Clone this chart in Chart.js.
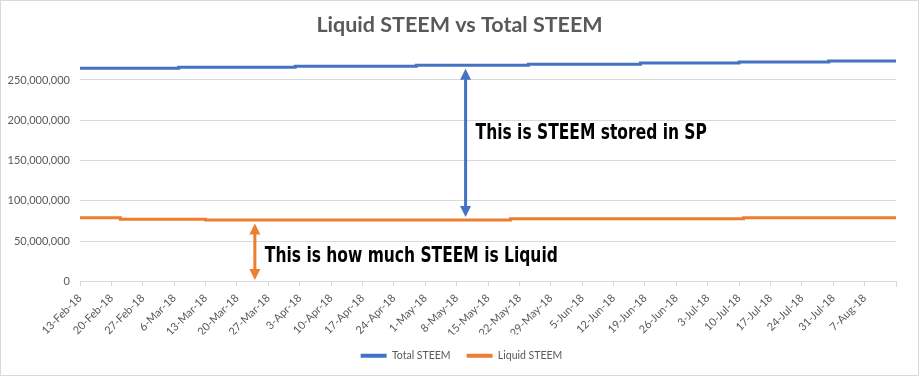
<!DOCTYPE html>
<html>
<head>
<meta charset="utf-8">
<script src="https://cdn.jsdelivr.net/npm/chart.js@4"></script>
<style>
  html, body { margin: 0; padding: 0; background: #fff; }
  #wrap { width: 919px; height: 376px; box-sizing: border-box; border: 1px solid #d9d9d9; }
  #wrap canvas { display: block; }
</style>
</head>
<body>
<div id="wrap"><canvas id="steem" width="917" height="374"></canvas></div>
<script>
// weekly tick labels (day 0 = 13-Feb-18)
const tickLabels = ['13-Feb-18', '20-Feb-18', '27-Feb-18', '6-Mar-18', '13-Mar-18', '20-Mar-18', '27-Mar-18',
    '3-Apr-18', '10-Apr-18', '17-Apr-18', '24-Apr-18', '1-May-18', '8-May-18', '15-May-18', '22-May-18',
    '29-May-18', '5-Jun-18', '12-Jun-18', '19-Jun-18', '26-Jun-18', '3-Jul-18', '10-Jul-18', '17-Jul-18',
    '24-Jul-18', '31-Jul-18', '7-Aug-18'];
const yTicks = [0, 50e6, 100e6, 150e6, 200e6, 250e6];

// days (from 13-Feb-18) where the value changes, and the value from that day on
const totalDays = [0, 22, 48, 75, 100, 125, 147, 167, 182];
const totalSteem = [264.6e6, 265.8e6, 267.1e6, 268.3e6, 269.6e6, 271.2e6, 272.4e6, 273.7e6, 273.7e6];

const liquidDays = [0, 9, 28, 96, 148, 182];
const liquidSteem = [79.1e6, 77.2e6, 76.2e6, 77.7e6, 79.0e6, 79.0e6];

const BLUE = '#4472C4';
const ORANGE = '#ED7D31';
const GREY = '#595959';

function valueAt(days, values, d) {
    let v = values[0];
    days.forEach((x, i) => { if (x <= d) v = values[i]; });
    return v;
}

// arrows + text drawn on top of the chart
const notes = [
    { day: 86, text: 'This is STEEM stored in SP', color: BLUE, from: 'total', to: 'liquid', textValue: 176.5e6 },
    { day: 39, text: 'This is how much STEEM is Liquid', color: ORANGE, from: 'liquid', to: 'zero', textValue: 23.7e6 }
];

const notePlugin = {
    id: 'notes',
    afterLayout(chart) {
        // title and legend centred on the whole canvas, not on the padded box
        chart.titleBlock.left = 0;
        chart.titleBlock.right = chart.width;
        chart.titleBlock.width = chart.width;
        chart.legend.left = 2;
        chart.legend.right = chart.width + 2;
        chart.legend.width = chart.width;
    },
    afterDatasetsDraw(chart) {
        const ctx = chart.ctx;
        const xs = chart.scales.x, ys = chart.scales.y;
        notes.forEach(n => {
            const x = xs.getPixelForValue(n.day);
            const level = k => k === 'total' ? valueAt(totalDays, totalSteem, n.day)
                : k === 'liquid' ? valueAt(liquidDays, liquidSteem, n.day) : 0;
            const top = ys.getPixelForValue(level(n.from)) + 3.5;
            const bottom = ys.getPixelForValue(level(n.to)) - (n.to === 'zero' ? 1.5 : 3);
            const head = 11, half = 5.5;
            ctx.save();
            ctx.strokeStyle = n.color;
            ctx.fillStyle = n.color;
            ctx.lineWidth = 3;
            ctx.beginPath();
            ctx.moveTo(x, top + head - 1);
            ctx.lineTo(x, bottom - head + 1);
            ctx.stroke();
            ctx.beginPath();
            ctx.moveTo(x, top);
            ctx.lineTo(x - half, top + head);
            ctx.lineTo(x + half, top + head);
            ctx.closePath();
            ctx.fill();
            ctx.beginPath();
            ctx.moveTo(x, bottom);
            ctx.lineTo(x - half, bottom - head);
            ctx.lineTo(x + half, bottom - head);
            ctx.closePath();
            ctx.fill();
            // narrow bold text: condensed face squeezed a little more
            ctx.fillStyle = '#000';
            ctx.font = 'bold 21px "DejaVu Sans Condensed", sans-serif';
            ctx.textBaseline = 'alphabetic';
            ctx.textAlign = 'left';
            ctx.translate(x + 10, ys.getPixelForValue(n.textValue));
            ctx.scale(0.82, 1);
            ctx.fillText(n.text, 0, 0);
            ctx.restore();
        });
    }
};

Chart.defaults.font.family = 'Lato';
Chart.defaults.color = GREY;

new Chart(document.getElementById('steem'), {
    type: 'line',
    data: {
        datasets: [{
            label: 'Total STEEM',
            data: totalDays.map((d, i) => ({ x: d, y: totalSteem[i] })),
            borderColor: BLUE,
            backgroundColor: BLUE,
            borderWidth: 3,
            stepped: true,
            pointRadius: 0
        }, {
            label: 'Liquid STEEM',
            data: liquidDays.map((d, i) => ({ x: d, y: liquidSteem[i] })),
            borderColor: ORANGE,
            backgroundColor: ORANGE,
            borderWidth: 3,
            stepped: true,
            pointRadius: 0
        }]
    },
    options: {
        responsive: false,
        animation: false,
        layout: { padding: { left: 7, right: 22, top: 0, bottom: 4 } },
        plugins: {
            title: {
                display: true,
                text: 'Liquid STEEM vs Total STEEM',
                color: GREY,
                font: { size: 21.5, weight: 'bold' },
                padding: { top: 11, bottom: 18 }
            },
            legend: {
                position: 'bottom',
                labels: {
                    boxWidth: 26,
                    boxHeight: 4,
                    padding: 16,
                    color: GREY,
                    font: { size: 10.5 },
                    generateLabels(chart) {
                        return Chart.defaults.plugins.legend.labels.generateLabels(chart)
                            .map(l => Object.assign(l, { lineWidth: 0 }));
                    }
                }
            },
            tooltip: { enabled: false }
        },
        scales: {
            x: {
                type: 'linear',
                min: 0,
                max: 182,
                afterFit(s) { s.height = 53; },
                ticks: {
                    stepSize: 7,
                    autoSkip: false,
                    minRotation: 45,
                    maxRotation: 45,
                    padding: 5,
                    color: GREY,
                    font: { size: 11 },
                    callback: v => tickLabels[v / 7] || ''
                },
                grid: { drawOnChartArea: false, drawTicks: true, tickLength: 5, color: '#d9d9d9' },
                border: { color: '#d9d9d9' }
            },
            y: {
                min: 0,
                max: 280e6,
                afterFit(s) { s.width = 72; },
                afterBuildTicks(s) { s.ticks = yTicks.map(v => ({ value: v })); },
                ticks: {
                    autoSkip: false,
                    padding: 10,
                    color: GREY,
                    font: { size: 11 },
                    callback: v => v.toLocaleString('en-US')
                },
                grid: { color: '#d9d9d9', drawTicks: false },
                border: { display: false }
            }
        }
    },
    plugins: [notePlugin]
});
</script>
</body>
</html>
